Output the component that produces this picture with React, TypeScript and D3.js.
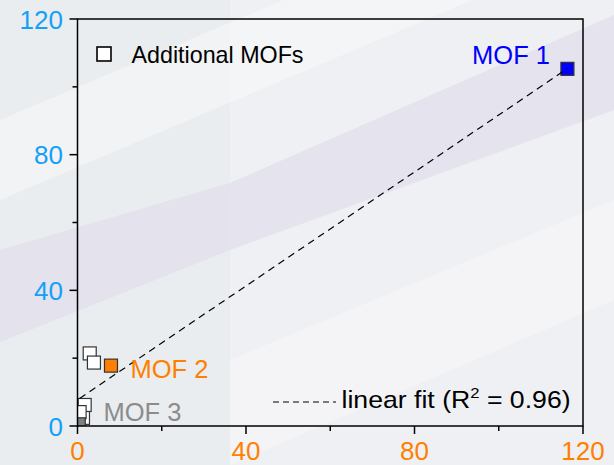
import React from "react";
import * as d3 from "d3";

// Additional MOFs (open squares)
const additionalX = [1.3, 1.7, 0.5, 2.9, 3.9];
const additionalY = [2.4, 6.2, 4.1, 21.4, 18.7];

// Highlighted MOFs
const mofNames = ["MOF 1", "MOF 2", "MOF 3"];
const mofX = [116.3, 7.95, 0.3];
const mofY = [105.3, 17.8, 0.5];
const mofColors = ["#0000ff", "#ff7f00", "#7f7f7f"];

// Linear fit
const fitSlope = 0.84;
const fitIntercept = 7.7;
const fitRange = [0.5, 116.3];
const fitR2 = "0.96";

// Axis ticks
const xTicks = [0, 40, 80, 120];
const yTicks = [0, 40, 80, 120];
const minorTicks = [20, 60, 100];

const W = 614;
const H = 465;
const FONT = "'Liberation Sans', Arial, sans-serif";

export default function App() {
  const x = d3.scaleLinear().domain([0, 120]).range([77.5, 583]);
  const y = d3.scaleLinear().domain([0, 120]).range([426, 19]);
  const [x0, x1] = x.range();
  const [y0, y1] = y.range();
  const ms = 13;

  const fitLine = d3
    .line<number>()
    .x((d) => x(d))
    .y((d) => y(fitSlope * d + fitIntercept));

  return (
    <svg
      width={W}
      height={H}
      style={{ position: "fixed", left: 0, top: 0, display: "block" }}
      fontFamily={FONT}
    >
      <defs>
        <clipPath id="plotClip">
          <rect x={x0} y={y1} width={x1 - x0} height={y0 - y1} />
        </clipPath>
      </defs>

      {/* slide background */}
      <rect x={0} y={0} width={W} height={H} fill="#eaedf0" />
      <rect x={230} y={0} width={W - 230} height={H} fill="#eff0f3" />
      <polygon points="0,120 614,-140 614,-60 0,200" fill="#ffffff" opacity={0.35} />
      <polygon points="230,360 614,200 614,300 230,465" fill="#ffffff" opacity={0.3} />
      <polygon points="0,250 230,183 614,15 614,110 230,250 0,342" fill="#dcd8ea" opacity={0.5} />

      {/* markers */}
      <g clipPath="url(#plotClip)">
        {additionalX.map((d, i) => (
          <rect
            key={"a" + i}
            x={x(d) - ms / 2}
            y={y(additionalY[i]) - ms / 2}
            width={ms}
            height={ms}
            fill="#ffffff"
            stroke="#333333"
            strokeWidth={1.2}
          />
        ))}
        {mofX.map((d, i) => (
          <rect
            key={"m" + i}
            x={x(d) - ms / 2}
            y={y(mofY[i]) - ms / 2}
            width={ms}
            height={ms}
            fill={mofColors[i]}
            stroke="#333333"
            strokeWidth={1.2}
          />
        ))}
        <path
          d={fitLine(fitRange) ?? ""}
          fill="none"
          stroke="#000"
          strokeWidth={1.2}
          strokeDasharray="7,5"
        />
      </g>

      {/* frame and axes */}
      <path
        d={`M${x0},${y1}H${x1}V${y0}H${x0}Z`}
        fill="none"
        stroke="#000"
        strokeWidth={1.5}
      />
      {xTicks.map((t) => (
        <g key={"xt" + t}>
          <line x1={x(t)} x2={x(t)} y1={y0} y2={y0 + 8} stroke="#000" strokeWidth={1.5} />
          <text x={x(t)} y={460} textAnchor="middle" fontSize={26} fill="#ff8000">
            {t}
          </text>
        </g>
      ))}
      {minorTicks.map((t) => (
        <line key={"xm" + t} x1={x(t)} x2={x(t)} y1={y0} y2={y0 + 5} stroke="#000" strokeWidth={1.5} />
      ))}
      {yTicks.map((t) => (
        <g key={"yt" + t}>
          <line x1={x0 - 8} x2={x0} y1={y(t)} y2={y(t)} stroke="#000" strokeWidth={1.5} />
          <text x={63} y={y(t) + 9.5} textAnchor="end" fontSize={26} fill="#14a0f8">
            {t}
          </text>
        </g>
      ))}
      {minorTicks.map((t) => (
        <line key={"ym" + t} x1={x0 - 5} x2={x0} y1={y(t)} y2={y(t)} stroke="#000" strokeWidth={1.5} />
      ))}

      {/* point labels */}
      <text x={550} y={64} textAnchor="end" fontSize={25.5} fill={mofColors[0]}>
        {mofNames[0]}
      </text>
      <text x={130.5} y={378} fontSize={25.5} fill={mofColors[1]}>
        {mofNames[1]}
      </text>
      <text x={103.5} y={421} fontSize={25.5} fill="#8c8c8c">
        {mofNames[2]}
      </text>

      {/* legend */}
      <rect x={97} y={47} width={14} height={14} fill="#ffffff" stroke="#000" strokeWidth={1.6} />
      <text x={131.5} y={63} fontSize={24} fill="#000" textLength={172} lengthAdjust="spacingAndGlyphs">
        Additional MOFs
      </text>
      <line x1={273} x2={336} y1={402} y2={402} stroke="#000" strokeWidth={1.2} strokeDasharray="6,4" />
      <g transform="translate(341.5,408) scale(1.11,1)">
        <text x={0} y={0} fontSize={24} fill="#000">
          linear fit (R
          <tspan dy={-10} fontSize={15}>2</tspan>
          <tspan dy={10}> = {fitR2})</tspan>
        </text>
      </g>
    </svg>
  );
}
